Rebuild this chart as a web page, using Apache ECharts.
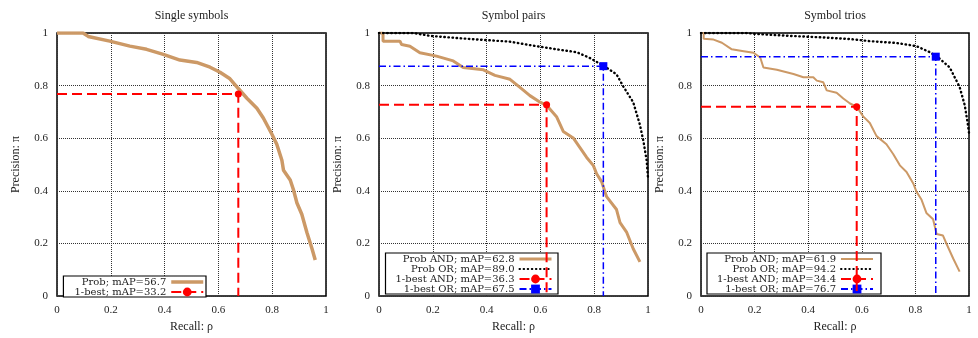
<!DOCTYPE html>
<html>
<head>
<meta charset="utf-8">
<script src="https://cdn.jsdelivr.net/npm/echarts@6/dist/echarts.min.js"></script>
<style>html,body{margin:0;padding:0;background:#fff}#c{width:978px;height:338px}</style>
</head>
<body>
<div id="c"></div>
<script>
// ---------- data ----------
const panelTitles = ['Single symbols', 'Symbol pairs', 'Symbol trios'];
const xAxisName = 'Recall: \u03c1';
const yAxisName = 'Precision: \u03c0';

const singleProb = [[0,1],[0.097,1],[0.116,0.987],[0.196,0.969],[0.271,0.95],[0.333,0.938],[0.395,0.919],[0.457,0.897],[0.519,0.888],[0.569,0.87],[0.606,0.851],[0.643,0.826],[0.674,0.789],[0.706,0.752],[0.743,0.714],[0.767,0.677],[0.799,0.615],[0.817,0.577],[0.836,0.516],[0.842,0.478],[0.867,0.441],[0.879,0.404],[0.892,0.354],[0.91,0.311],[0.929,0.242],[0.948,0.18],[0.96,0.137]];
const singleBest = [0.674, 0.768];
const singleNames = ['Prob; mAP=56.7', '1-best; mAP=33.2'];

const pairsAnd = [[0,1],[0.015,1],[0.015,0.969],[0.078,0.969],[0.084,0.956],[0.115,0.95],[0.152,0.925],[0.214,0.912],[0.276,0.894],[0.313,0.869],[0.388,0.86],[0.431,0.839],[0.487,0.824],[0.524,0.793],[0.561,0.762],[0.599,0.737],[0.623,0.725],[0.66,0.682],[0.685,0.626],[0.722,0.601],[0.747,0.564],[0.772,0.527],[0.797,0.496],[0.809,0.465],[0.828,0.434],[0.846,0.378],[0.883,0.329],[0.896,0.279],[0.921,0.242],[0.945,0.18],[0.97,0.13]];
const pairsOr = [[0,1],[0.128,1],[0.19,0.989],[0.313,0.979],[0.4,0.973],[0.487,0.967],[0.561,0.954],[0.66,0.938],[0.735,0.927],[0.784,0.905],[0.834,0.876],[0.883,0.843],[0.908,0.797],[0.945,0.737],[0.97,0.651],[0.983,0.589],[0.995,0.515],[1,0.45]];
const pairsAndBest = [0.623, 0.727];
const pairsOrBest = [0.834, 0.874];
const pairsNames = ['Prob AND; mAP=62.8', 'Prob OR; mAP=89.0', '1-best AND; mAP=36.3', '1-best OR; mAP=67.5'];

const triosAnd = [[0,1],[0.01,1],[0.01,0.978],[0.047,0.975],[0.078,0.963],[0.115,0.938],[0.159,0.931],[0.196,0.925],[0.221,0.907],[0.233,0.869],[0.283,0.86],[0.345,0.844],[0.382,0.832],[0.419,0.832],[0.432,0.819],[0.456,0.813],[0.469,0.782],[0.506,0.773],[0.531,0.751],[0.556,0.732],[0.581,0.72],[0.605,0.683],[0.63,0.658],[0.655,0.608],[0.692,0.577],[0.717,0.54],[0.742,0.497],[0.767,0.472],[0.792,0.428],[0.804,0.397],[0.823,0.366],[0.841,0.316],[0.866,0.292],[0.879,0.236],[0.903,0.23],[0.916,0.199],[0.941,0.143],[0.965,0.093]];
const triosOr = [[0,1],[0.171,1],[0.208,0.996],[0.332,0.989],[0.457,0.983],[0.556,0.977],[0.63,0.969],[0.73,0.962],[0.804,0.95],[0.854,0.927],[0.891,0.902],[0.928,0.869],[0.965,0.795],[0.984,0.726],[0.996,0.651],[1,0.62]];
const triosAndBest = [0.581, 0.72];
const triosOrBest = [0.876, 0.91];
const triosNames = ['Prob AND; mAP=61.9', 'Prob OR; mAP=94.2', '1-best AND; mAP=34.4', '1-best OR; mAP=76.7'];

// ---------- styling / layout ----------
const FONT = 'Liberation Serif';
const LFONT = 'DejaVu Serif';
const TXT = '#222';
const TAN = '#CC9966';
const NOFILL = 'rgba(0,0,0,0)';
const grids = [
  {left: 57, top: 33, width: 269, height: 269},
  {left: 379, top: 33, width: 269, height: 269},
  {left: 701, top: 33, width: 268, height: 269}
];
const legendPos = [
  {right: 772, top: 276, pl: 11, pr: 1},
  {right: 420, top: 253, pl: 10, pr: 5},
  {right: 97, top: 253, pl: 10, pr: 7}
];
const probWidths = [3.5, 3, 2];

function probLine(name, data, gi, width) {
  return {name, type: 'line', xAxisIndex: gi, yAxisIndex: gi, data, symbol: 'none',
    lineStyle: {color: TAN, width: width}, itemStyle: {color: NOFILL}, z: 2, animation: false};
}
function dottedLine(name, data, gi) {
  return {name, type: 'line', xAxisIndex: gi, yAxisIndex: gi, data, symbol: 'none',
    lineStyle: {color: '#000', width: 2.4, type: [0.5, 3.6], cap: 'round'}, itemStyle: {color: NOFILL}, z: 3, animation: false};
}
function bestLine(name, pt, gi, color, dash, width, symbol, size) {
  return {name, type: 'line', xAxisIndex: gi, yAxisIndex: gi,
    data: [{value: [0, pt[1]], symbol: 'none'}, {value: [pt[0], pt[1]]}, {value: [pt[0], 0], symbol: 'none'}],
    symbol: symbol, symbolSize: size, showAllSymbol: true,
    lineStyle: {color: color, width: width, type: dash}, itemStyle: {color: color}, z: 4, animation: false};
}

const RED_DASH = [10, 5];
const BLUE_DASH = [7, 3, 1.5, 3];

const series = [
  probLine(singleNames[0], singleProb, 0, probWidths[0]),
  bestLine(singleNames[1], singleBest, 0, '#FF0000', RED_DASH, 2, 'circle', 7),
  probLine(pairsNames[0], pairsAnd, 1, probWidths[1]),
  dottedLine(pairsNames[1], pairsOr, 1),
  bestLine(pairsNames[2], pairsAndBest, 1, '#FF0000', RED_DASH, 2, 'circle', 7),
  bestLine(pairsNames[3], pairsOrBest, 1, '#0000FF', BLUE_DASH, 1.5, 'rect', 8),
  probLine(triosNames[0], triosAnd, 2, probWidths[2]),
  dottedLine(triosNames[1], triosOr, 2),
  bestLine(triosNames[2], triosAndBest, 2, '#FF0000', RED_DASH, 2, 'circle', 7),
  bestLine(triosNames[3], triosOrBest, 2, '#0000FF', BLUE_DASH, 1.5, 'rect', 8)
];

const axisBase = {
  type: 'value', min: 0, max: 1, interval: 0.2,
  nameLocation: 'middle',
  nameTextStyle: {fontFamily: FONT, fontSize: 12, color: TXT},
  axisLine: {show: false}, axisTick: {show: false},
  splitLine: {show: true, lineStyle: {color: '#333', width: 1, type: [1, 1]}}
};
const xAxes = grids.map((g, i) => Object.assign({}, axisBase, {
  gridIndex: i, name: xAxisName, nameGap: 24,
  axisLabel: {fontFamily: FONT, fontSize: 11, color: TXT, margin: 9}
}));
const yAxes = grids.map((g, i) => Object.assign({}, axisBase, {
  gridIndex: i, name: yAxisName, nameGap: 35,
  axisLabel: {fontFamily: FONT, fontSize: 11, color: TXT, margin: 9}
}));

const titles = grids.map((g, i) => ({
  text: panelTitles[i], left: g.left + g.width / 2, top: 10, textAlign: 'center', padding: 0,
  textStyle: {fontFamily: FONT, fontSize: 12, fontWeight: 'normal', color: TXT}
}));

const legendNames = [singleNames, pairsNames, triosNames];
const legends = legendNames.map((names, i) => ({
  data: names.map((n, k) => k === 0 ? {name: n, lineStyle: {width: probWidths[i]}} : {name: n}),
  orient: 'vertical', align: 'right',
  right: legendPos[i].right, top: legendPos[i].top,
  itemWidth: 32, itemHeight: 11, itemGap: 0,
  padding: [1, legendPos[i].pr, 0, legendPos[i].pl],
  backgroundColor: '#fff', borderColor: '#000', borderWidth: 1.2,
  selectedMode: false,
  textStyle: {fontFamily: LFONT, fontSize: 10, color: TXT}
}));

const chart = echarts.init(document.getElementById('c'), null, {renderer: 'canvas'});
chart.setOption({
  animation: false,
  backgroundColor: '#fff',
  title: titles,
  grid: grids.map(g => Object.assign({show: true, borderColor: '#000', borderWidth: 1.5, backgroundColor: 'transparent'}, g)),
  xAxis: xAxes,
  yAxis: yAxes,
  legend: legends,
  series: series
});
</script>
</body>
</html>
